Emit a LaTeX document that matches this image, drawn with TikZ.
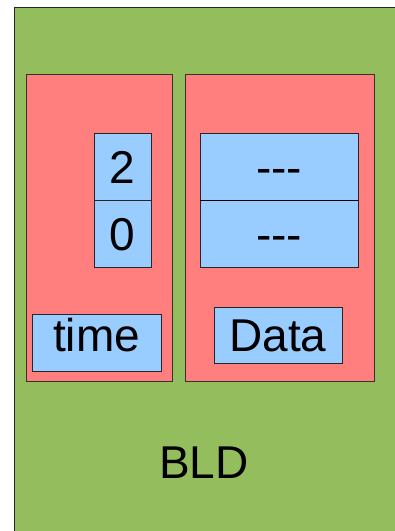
\documentclass[tikz,border=0pt]{standalone}
\usepackage{fontspec}
\setmainfont{Liberation Sans}
\usepackage{xcolor}
\definecolor{bldgreen}{HTML}{94BD5E}
\definecolor{colred}{HTML}{FF7F7F}
\definecolor{cellblue}{HTML}{99CCFF}
\usetikzlibrary{positioning}

\begin{document}
\begin{tikzpicture}[
    x=1pt, y=-1pt,
    outer/.style={draw=black!85, fill=bldgreen, line width=1pt},
    column/.style={draw=black!80, fill=colred, line width=0.9pt, inner sep=0pt},
    cell/.style={draw=black!85, fill=cellblue, line width=0.9pt, inner sep=0pt, text height=33pt, text depth=0pt, font=\fontsize{46}{50}\selectfont},
    label/.style={font=\fontsize{46}{50}\selectfont, inner sep=0pt}
]
\clip (0,0) rectangle (395,531);
\useasboundingbox (0,0) rectangle (395,531);

% BLD frame (runs past the right and bottom edge)
\path[outer] (14,7) rectangle (402,540);

% columns
\node[column, minimum width=146pt, minimum height=307pt] (timecol) at (99,227.5) {};
\node[column, minimum width=189pt, minimum height=307pt] (datacol) at (279.5,227.5) {};

% left column - time
\node[cell, minimum width=57pt, minimum height=67pt] (two) at (122.5,166.5) {2};
\node[cell, minimum width=57pt, minimum height=67pt, below=0pt of two] (zero) {0};
\node[cell, minimum width=129pt, minimum height=57pt, text depth=16pt] (time) at (96.5,342.5) {time};

% right column - data
\node[cell, minimum width=158pt, minimum height=67pt] (dash1) at (279,166.5) {-{}-{}-};
\node[cell, minimum width=158pt, minimum height=67pt, below=0pt of dash1] (dash2) {-{}-{}-};
\draw[line width=1.3pt] (dash1.south west) -- (dash1.south east);
\node[cell, minimum width=128pt, minimum height=56pt] (data) at (278,335) {Data};

\node[label] (bld) at (204,463) {BLD};

\end{tikzpicture}
\end{document}
